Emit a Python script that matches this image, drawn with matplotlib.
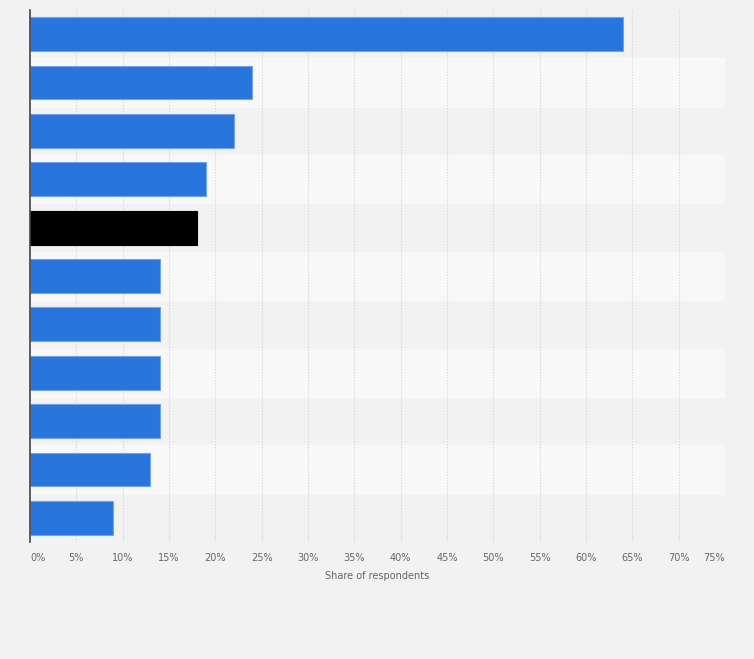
import matplotlib.pyplot as plt

# Data (category names are not shown in the chart)
rows = list(range(11))
values = [64, 24, 22, 19, 18, 14, 14, 14, 14, 13, 9]
colors = ['#2876dd'] * 4 + ['#000000'] + ['#2876dd'] * 6
ticks = list(range(0, 80, 5))
tick_labels = [f'{t}%' for t in ticks]

fig = plt.figure(figsize=(7.54, 6.59), dpi=100, facecolor='#f2f2f2')
ax = fig.add_axes([30 / 754, 1 - 542 / 659, 695 / 754, 532 / 659])
ax.set_facecolor('#f2f2f2')

# alternating row stripes
for i in rows:
    if i % 2 == 1:
        ax.axhspan(i - 0.5, i + 0.5, color='#f8f8f8', zorder=0)

# vertical dotted grid
for t in ticks[1:]:
    ax.axvline(t, color='#d4d4d4', linestyle=(0, (1, 1.5)), linewidth=0.8, zorder=1)

edge = ['#6fa3ec' if c != '#000000' else '#000000' for c in colors]
ax.barh(rows, values, height=0.7, color=colors, edgecolor=edge, linewidth=0.8, zorder=2)

ax.set_xlim(0, 75)
ax.set_ylim(10.5, -0.5)
ax.set_yticks([])
ax.set_xticks(ticks)
ax.set_xticklabels(tick_labels, fontsize=7, color='#666666')
ax.tick_params(axis='x', length=0, pad=8)
for lbl, t in zip(ax.get_xticklabels(), ticks):
    if t == 0:
        lbl.set_ha('left')
    elif t == 75:
        lbl.set_ha('right')
ax.set_xlabel('Share of respondents', fontsize=7, color='#666666', labelpad=6)

for s in ['top', 'right', 'bottom']:
    ax.spines[s].set_visible(False)
ax.spines['left'].set_color('#444444')
ax.spines['left'].set_linewidth(1.2)

fig.savefig('out.png', dpi=100, facecolor=fig.get_facecolor())
